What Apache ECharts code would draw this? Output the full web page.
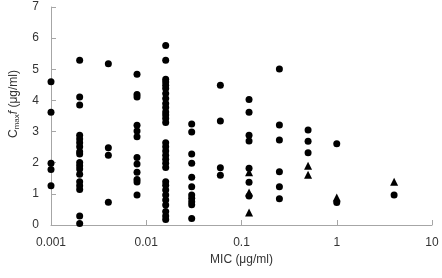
<!DOCTYPE html>
<html>
<head>
<meta charset="utf-8">
<style>
  html, body { margin: 0; padding: 0; background: #fff; }
  #chart { width: 442px; height: 278px; }
</style>
<script src="https://cdn.jsdelivr.net/npm/echarts@6/dist/echarts.min.js"></script>
</head>
<body>
<div id="chart"></div>
<script>
// MIC values (x, log scale)
const micCircle = [0.001, 0.002, 0.004, 0.008, 0.016, 0.03, 0.06, 0.12, 0.25, 0.5, 1, 4]
// Cmax f values for each MIC, circles
const circleValues = [
  [4.60, 3.62, 1.98, 1.78, 1.26],
  [5.29, 4.11, 3.85, 2.88, 2.76, 2.64, 2.51, 2.35, 2.28, 2.01, 1.90, 1.80, 1.63, 1.39, 1.26, 1.14, 0.29, 0.05],
  [5.18, 2.48, 2.24, 0.73],
  [4.84, 4.19, 4.11, 3.20, 3.02, 2.83, 2.17, 1.96, 1.69, 1.46, 1.38, 0.96],
  [5.76, 5.29, 4.68, 4.59, 4.49, 4.38, 4.22, 4.06, 3.90, 3.77, 3.63, 3.53, 3.42, 3.29,
    2.64, 2.51, 2.38, 2.24, 2.11, 1.98, 1.85, 1.39, 1.28, 1.12, 0.96, 0.80, 0.64, 0.43, 0.29, 0.18],
  [3.24, 2.99, 2.28, 1.98, 1.53, 1.23, 0.96, 0.86, 0.75, 0.65, 0.21],
  [4.49, 3.34, 1.84, 1.60],
  [4.03, 3.62, 2.88, 2.70, 1.82, 1.37, 0.93],
  [5.01, 3.21, 2.73, 1.71, 1.23, 0.84],
  [3.05, 2.69, 2.32],
  [2.61, 0.72],
  [0.96]
]
// triangles
const micTriangle = [0.12, 0.5, 1, 4]
const triangleValues = [
  [1.69, 1.04, 0.40],
  [1.90, 1.61],
  [0.88],
  [1.39]
]
const xTicks = [0.001, 0.01, 0.1, 1, 10]

const toPoints = (xs, vals) => {
  const out = []
  xs.forEach((x, i) => vals[i].forEach(v => out.push([x, v])))
  return out
}

const axisGray = '#a6a6a6'
const textColor = '#333'
const font = 'Liberation Sans, Arial, sans-serif'

const chart = echarts.init(document.getElementById('chart'))
chart.setOption({
  animation: false,
  grid: { left: 48, right: 10, top: 7, bottom: 53 },
  xAxis: {
    type: 'log',
    logBase: 10,
    min: 0.001,
    max: 10,
    name: 'MIC (μg/ml)',
    nameLocation: 'middle',
    nameGap: 29,
    nameTextStyle: { color: textColor, fontSize: 12, fontFamily: font },
    axisLine: { lineStyle: { color: axisGray } },
    axisTick: { inside: true, length: 5, lineStyle: { color: axisGray } },
    minorTick: { show: false },
    splitLine: { show: false },
    axisLabel: {
      color: textColor, fontSize: 12, fontFamily: font, margin: 12,
      formatter: v => {
        const t = xTicks.find(k => Math.abs(k - v) / k < 1e-6)
        return t === undefined ? '' : String(t)
      }
    }
  },
  yAxis: {
    type: 'value',
    min: 0,
    max: 7,
    interval: 1,
    name: '{c|C}{s|max}{i|f} {c|(μg/ml)}',
    nameLocation: 'middle',
    nameRotate: 90,
    nameGap: 30,
    nameTextStyle: {
      padding: [0, 0, 0, 24],
      rich: {
        c: { color: textColor, fontSize: 12, fontFamily: font },
        s: { color: textColor, fontSize: 8, fontFamily: font, verticalAlign: 'bottom', padding: [6, 0, 0, 0] },
        i: { color: textColor, fontSize: 12, fontFamily: font, fontStyle: 'italic' }
      }
    },
    axisLine: { show: true, lineStyle: { color: axisGray } },
    axisTick: { show: true, inside: true, length: 5, lineStyle: { color: axisGray } },
    splitLine: { show: false },
    axisLabel: { color: textColor, fontSize: 12, fontFamily: font, margin: 12 }
  },
  series: [
    {
      type: 'scatter',
      symbol: 'circle',
      symbolSize: 7,
      itemStyle: { color: '#000', opacity: 1 },
      data: toPoints(micCircle, circleValues)
    },
    {
      type: 'scatter',
      symbol: 'triangle',
      symbolSize: 8,
      itemStyle: { color: '#000', opacity: 1 },
      data: toPoints(micTriangle, triangleValues)
    }
  ]
})
</script>
</body>
</html>
